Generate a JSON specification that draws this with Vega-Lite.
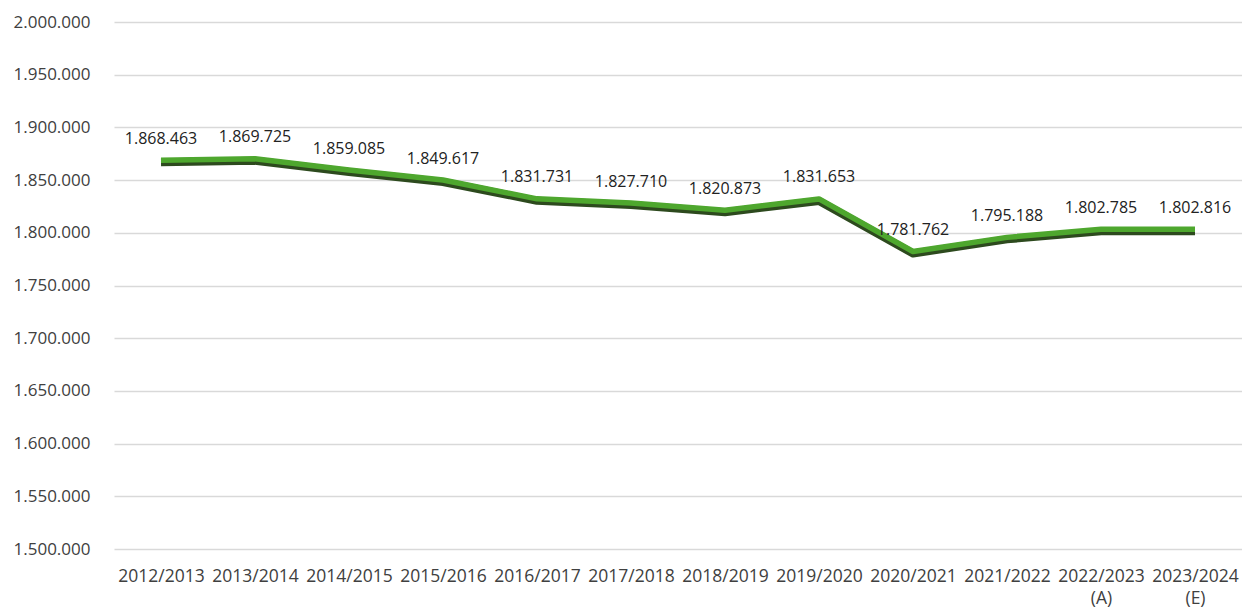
{
  "$schema": "https://vega.github.io/schema/vega-lite/v6.json",
  "width": 1242,
  "height": 607,
  "autosize": {"type": "fit", "contains": "padding"},
  "padding": {"left": 13, "top": 13, "right": 0, "bottom": 0},
  "background": "white",
  "config": {
    "view": {"stroke": null},
    "locale": {"number": {"decimal": ",", "thousands": ".", "grouping": [3], "currency": ["", " €"]}},
    "font": "Open Sans"
  },
  "data": {
    "values": [
      {"year": "2012/2013", "value": 1868463},
      {"year": "2013/2014", "value": 1869725},
      {"year": "2014/2015", "value": 1859085},
      {"year": "2015/2016", "value": 1849617},
      {"year": "2016/2017", "value": 1831731},
      {"year": "2017/2018", "value": 1827710},
      {"year": "2018/2019", "value": 1820873},
      {"year": "2019/2020", "value": 1831653},
      {"year": "2020/2021", "value": 1781762},
      {"year": "2021/2022", "value": 1795188},
      {"year": "2022/2023 (A)", "value": 1802785},
      {"year": "2023/2024 (E)", "value": 1802816}
    ]
  },
  "encoding": {
    "x": {
      "field": "year", "type": "nominal", "sort": null,
      "scale": {"paddingInner": 0, "paddingOuter": 0.5},
      "axis": {
        "title": null, "labelAngle": 0, "domain": false, "ticks": false,
        "labelExpr": "split(datum.label, ' ')",
        "labelFontSize": 17.5, "labelColor": "#404040", "labelPadding": 18,
        "labelLineHeight": 22, "labelOverlap": false
      }
    },
    "y": {
      "field": "value", "type": "quantitative",
      "scale": {"domain": [1500000, 2000000], "nice": false, "zero": false},
      "axis": {
        "title": null,
        "values": [1500000,1550000,1600000,1650000,1700000,1750000,1800000,1850000,1900000,1950000,2000000],
        "format": ",.0f", "domain": false, "ticks": false, "labelOverlap": false,
        "gridColor": "#d9d9d9", "gridWidth": 1.5,
        "labelFontSize": 17, "labelColor": "#404040", "labelPadding": 24
      }
    }
  },
  "layer": [
    {"mark": {"type": "line", "color": "#2d4a1e", "strokeWidth": 8, "yOffset": 1.5, "strokeJoin": "round", "strokeCap": "butt"}},
    {"mark": {"type": "line", "color": "#4ea72e", "strokeWidth": 5.5, "yOffset": -0.5, "strokeJoin": "round", "strokeCap": "butt"}},
    {
      "mark": {"type": "text", "dy": -22, "fontSize": 16, "color": "#222222"},
      "encoding": {"text": {"field": "value", "type": "quantitative", "format": ",.0f"}}
    }
  ]
}
